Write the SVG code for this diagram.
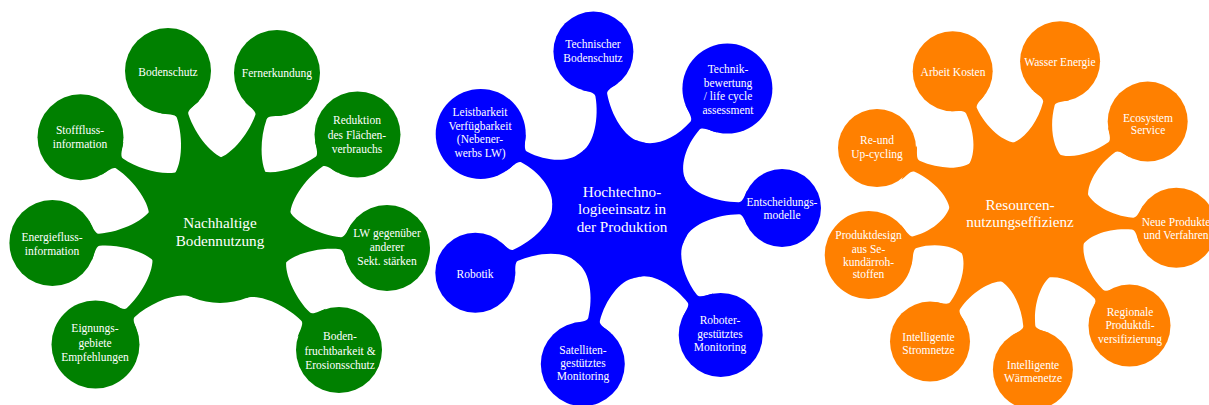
<svg xmlns="http://www.w3.org/2000/svg" xmlns:xlink="http://www.w3.org/1999/xlink" width="1209" height="405" viewBox="0 0 1209 405">
<style>
.g{fill:#008000}
.b{fill:#0000ff}
.o{fill:#ff8000}
text{font-family:"Liberation Serif","Times New Roman",serif;fill:#ffffff;text-anchor:middle}
.t{font-size:11.5px}
.c{font-size:15.2px}
</style>
<defs>
<path id="g43" d="M65.8,29.3 C71.5,16.5 99,6 121,6 C125,6 127.2,14.9 130,20.2 L130,-20.2 C127.2,-14.9 125,-6 121,-6 C99,-6 71.5,-16.5 65.8,-29.3 Z"/>
<path id="b40" d="M63.9,28.5 C69.6,15.7 94,6 116,6 C120,6 121.9,13.5 124.7,18.8 L124.7,-18.8 C121.9,-13.5 120,-6 116,-6 C94,-6 69.6,-15.7 63.9,-28.5 Z"/>
<path id="b45" d="M63.9,28.5 C69.6,15.7 89,6 111,6 C115,6 117.5,15.8 120.3,21.1 L120.3,-21.1 C117.5,-15.8 115,-6 111,-6 C89,-6 69.6,-15.7 63.9,-28.5 Z"/>
<path id="b39" d="M63.9,28.5 C69.6,15.7 95,6 117,6 C121,6 122.8,13 125.6,18.3 L125.6,-18.3 C122.8,-13 121,-6 117,-6 C95,-6 69.6,-15.7 63.9,-28.5 Z"/>
<path id="b42" d="M63.9,28.5 C69.6,15.7 92,6 114,6 C118,6 120.1,14.4 122.9,19.7 L122.9,-19.7 C120.1,-14.4 118,-6 114,-6 C92,-6 69.6,-15.7 63.9,-28.5 Z"/>
<path id="o40" d="M63.9,28.5 C69.6,15.7 91,6 113,6 C117,6 118.9,13.5 121.7,18.8 L121.7,-18.8 C118.9,-13.5 117,-6 113,-6 C91,-6 69.6,-15.7 63.9,-28.5 Z"/>
<path id="o44" d="M63.9,28.5 C69.6,15.7 87,6 109,6 C113,6 115.3,15.3 118.1,20.6 L118.1,-20.6 C115.3,-15.3 113,-6 109,-6 C87,-6 69.6,-15.7 63.9,-28.5 Z"/>
</defs>

<g id="connectors">
<g class="g">
<use xlink:href="#g43" transform="translate(220 231) rotate(-108)"/>
<use xlink:href="#g43" transform="translate(220 231) rotate(-70.2)"/>
<use xlink:href="#g43" transform="translate(220 231) rotate(-35)"/>
<use xlink:href="#g43" transform="translate(220 231) rotate(5.8)"/>
<use xlink:href="#g43" transform="translate(220 231) rotate(45)"/>
<use xlink:href="#g43" transform="translate(220 231) rotate(137.6)"/>
<use xlink:href="#g43" transform="translate(220 231) rotate(175.9)"/>
<use xlink:href="#g43" transform="translate(220 231) rotate(-146.1)"/>
</g>
<g class="b">
<use xlink:href="#b40" transform="translate(622 209) rotate(-100.3)"/>
<use xlink:href="#b45" transform="translate(622 209) rotate(-48.8)"/>
<use xlink:href="#b39" transform="translate(622 209) rotate(-0.4)"/>
<use xlink:href="#b42" transform="translate(622 209) rotate(51.9)"/>
<use xlink:href="#b42" transform="translate(622 209) rotate(104.2)"/>
<use xlink:href="#b40" transform="translate(622 209) rotate(156.5)"/>
<use xlink:href="#b45" transform="translate(622 209) rotate(-152)"/>
</g>
<g class="o">
<use xlink:href="#o40" transform="translate(1020 213) rotate(-115.4)"/>
<use xlink:href="#o40" transform="translate(1020 213) rotate(-75.2)"/>
<use xlink:href="#o40" transform="translate(1020 213) rotate(-35.6)"/>
<use xlink:href="#o40" transform="translate(1020 213) rotate(5.4)"/>
<use xlink:href="#o40" transform="translate(1020 213) rotate(45.8)"/>
<use xlink:href="#o40" transform="translate(1020 213) rotate(85.3)"/>
<use xlink:href="#o40" transform="translate(1020 213) rotate(125)"/>
<use xlink:href="#o44" transform="translate(1020 213) rotate(164.5)"/>
<use xlink:href="#o40" transform="translate(1020 213) rotate(-155.6)"/>
</g>
</g>

<!-- Green cluster -->
<g id="n-nachhaltige-bodennutzung"><circle class="g" cx="220" cy="231" r="72"/><text class="c"><tspan x="220" y="227.5">Nachhaltige</tspan><tspan x="220" y="245.5">Bodennutzung</tspan></text></g>
<g id="n-bodenschutz"><circle class="g" cx="168" cy="71" r="43"/><text class="t"><tspan x="168" y="76">Bodenschutz</tspan></text></g>
<g id="n-fernerkundung"><circle class="g" cx="277" cy="73" r="43"/><text class="t"><tspan x="277" y="77">Fernerkundung</tspan></text></g>
<g id="n-reduktion"><circle class="g" cx="357.5" cy="134.6" r="43"/><text class="t"><tspan x="357" y="124">Reduktion</tspan><tspan x="357" y="139">des Flächen-</tspan><tspan x="357" y="153">verbrauchs</tspan></text></g>
<g id="n-lw"><circle class="g" cx="387" cy="248" r="43"/><text class="t"><tspan x="387" y="237">LW gegenüber</tspan><tspan x="387" y="251">anderer</tspan><tspan x="387" y="265">Sekt. stärken</tspan></text></g>
<g id="n-bodenfruchtbarkeit"><circle class="g" cx="339" cy="350" r="43"/><text class="t"><tspan x="340" y="340">Boden-</tspan><tspan x="340" y="355">fruchtbarkeit &amp;</tspan><tspan x="340" y="369">Erosionsschutz</tspan></text></g>
<g id="n-eignungsgebiete"><circle class="g" cx="95.5" cy="344.5" r="44"/><text class="t"><tspan x="95" y="332">Eignungs-</tspan><tspan x="95" y="347">gebiete</tspan><tspan x="95" y="361">Empfehlungen</tspan></text></g>
<g id="n-energiefluss"><circle class="g" cx="52.4" cy="243" r="43"/><text class="t"><tspan x="52" y="241">Energiefluss-</tspan><tspan x="52" y="255">information</tspan></text></g>
<g id="n-stofffluss"><circle class="g" cx="80.5" cy="137.3" r="43"/><text class="t"><tspan x="80" y="134">Stofffluss-</tspan><tspan x="80" y="148">information</tspan></text></g>

<!-- Blue cluster -->
<g id="n-hochtechnologie"><circle class="b" cx="622" cy="209" r="70"/><text class="c"><tspan x="622" y="197">Hochtechno-</tspan><tspan x="622" y="214">logieeinsatz in</tspan><tspan x="622" y="231.5">der Produktion</tspan></text></g>
<g id="n-technischer-bodenschutz"><circle class="b" cx="593.4" cy="51.6" r="40"/><text class="t"><tspan x="593" y="47.5">Technischer</tspan><tspan x="593" y="61.5">Bodenschutz</tspan></text></g>
<g id="n-technikbewertung"><circle class="b" cx="727.4" cy="88.6" r="45"/><text class="t"><tspan x="728" y="73">Technik-</tspan><tspan x="728" y="87">bewertung</tspan><tspan x="728" y="100">/ life cycle</tspan><tspan x="728" y="113.5">assessment</tspan></text></g>
<g id="n-entscheidungsmodelle"><circle class="b" cx="782" cy="208" r="39"/><text class="t"><tspan x="782" y="206">Entscheidungs-</tspan><tspan x="782" y="219">modelle</tspan></text></g>
<g id="n-roboter"><circle class="b" cx="720.7" cy="334.9" r="42"/><text class="t"><tspan x="720" y="324">Roboter-</tspan><tspan x="720" y="337.5">gestütztes</tspan><tspan x="720" y="351">Monitoring</tspan></text></g>
<g id="n-satelliten"><circle class="b" cx="582.8" cy="364.1" r="42"/><text class="t"><tspan x="583" y="353.5">Satelliten-</tspan><tspan x="583" y="367">gestütztes</tspan><tspan x="583" y="380">Monitoring</tspan></text></g>
<g id="n-robotik"><circle class="b" cx="475.3" cy="272.8" r="40"/><text class="t"><tspan x="475" y="277.5">Robotik</tspan></text></g>
<g id="n-leistbarkeit"><circle class="b" cx="480.7" cy="133.9" r="45"/><text class="t"><tspan x="480" y="116">Leistbarkeit</tspan><tspan x="480" y="130">Verfügbarkeit</tspan><tspan x="480" y="143">(Nebener-</tspan><tspan x="480" y="157">werbs LW)</tspan></text></g>

<!-- Orange cluster -->
<g id="n-resourcennutzungseffizienz"><circle class="o" cx="1020" cy="213" r="70"/><text class="c"><tspan x="1020" y="209.5">Resourcen-</tspan><tspan x="1020" y="227">nutzungseffizienz</tspan></text></g>
<g id="n-arbeit-kosten"><circle class="o" cx="952.7" cy="71.2" r="40"/><text class="t"><tspan x="953" y="76">Arbeit Kosten</tspan></text></g>
<g id="n-wasser-energie"><circle class="o" cx="1060.1" cy="61.2" r="40"/><text class="t"><tspan x="1060" y="66">Wasser Energie</tspan></text></g>
<g id="n-ecosystem"><circle class="o" cx="1147.7" cy="121.6" r="40"/><text class="t"><tspan x="1148" y="121.5">Ecosystem</tspan><tspan x="1148" y="134">Service</tspan></text></g>
<g id="n-neue-produkte"><circle class="o" cx="1176.3" cy="227.8" r="40"/><text class="t"><tspan x="1176" y="226">Neue Produkte</tspan><tspan x="1176" y="239">und Verfahren</tspan></text></g>
<g id="n-regionale"><circle class="o" cx="1129.5" cy="325.6" r="41"/><text class="t"><tspan x="1130" y="316">Regionale</tspan><tspan x="1130" y="329">Produktdi-</tspan><tspan x="1130" y="342.5">versifizierung</tspan></text></g>
<g id="n-waermenetze"><circle class="o" cx="1032.9" cy="369.5" r="40"/><text class="t"><tspan x="1033" y="368.5">Intelligente</tspan><tspan x="1033" y="382">Wärmenetze</tspan></text></g>
<g id="n-stromnetze"><circle class="o" cx="930" cy="341.6" r="40"/><text class="t"><tspan x="928.5" y="341">Intelligente</tspan><tspan x="928.5" y="354">Stromnetze</tspan></text></g>
<g id="n-produktdesign"><circle class="o" cx="868.7" cy="255" r="44"/><text class="t"><tspan x="868.5" y="239">Produktdesign</tspan><tspan x="868.5" y="252.5">aus Se-</tspan><tspan x="868.5" y="266">kundärroh-</tspan><tspan x="868.5" y="278">stoffen</tspan></text></g>
<g id="n-recycling"><circle class="o" cx="877" cy="148.1" r="39"/><text class="t"><tspan x="877" y="144">Re-und</tspan><tspan x="877" y="157.5">Up-cycling</tspan></text></g>
</svg>
